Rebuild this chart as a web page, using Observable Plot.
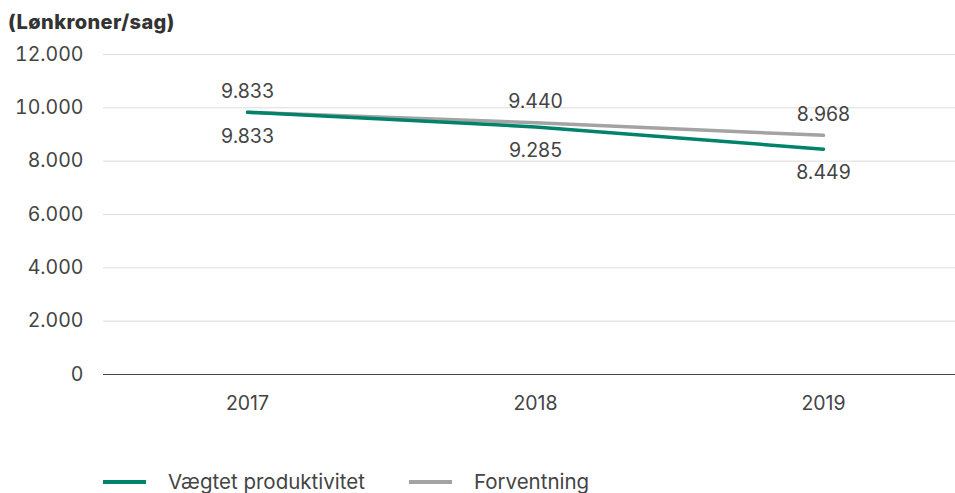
<!DOCTYPE html>
<html><head><meta charset="utf-8">
<script src="https://cdn.jsdelivr.net/npm/d3@7"></script>
<script src="https://cdn.jsdelivr.net/npm/@observablehq/plot@0.6"></script>
<style>
body{margin:0;background:#fff;font-family:Inter,"Liberation Sans",sans-serif;color:#444;}
#title{position:absolute;left:8px;top:10px;font-weight:800;font-size:20px;color:#333;letter-spacing:0.4px;}
#chart{position:absolute;left:0;top:40px;}
#legend{position:absolute;left:103px;top:469px;display:flex;align-items:center;font-size:20.5px;color:#444;}
.sw{width:43px;height:4px;margin-right:22px;}
.it{display:flex;align-items:center;margin-right:44px;}
</style></head>
<body>
<div id="title">(Lønkroner/sag)</div>
<div id="chart"></div>
<div id="legend"></div>
<script>
const years = ["2017","2018","2019"];
const produktivitet = [9833, 9285, 8449];
const forventning = [9833, 9440, 8968];
const yTicks = [0,2000,4000,6000,8000,10000,12000];
const seriesNames = ["Vægtet produktivitet","Forventning"];
const colors = ["#00836a","#a3a3a3"];

const loc = d3.formatLocale({decimal:",",thousands:".",grouping:[3],currency:["","kr"]});
const fmt = loc.format(",d");

const data = [];
years.forEach((y,i)=>{
  data.push({year:y, value:produktivitet[i], series:seriesNames[0]});
  data.push({year:y, value:forventning[i], series:seriesNames[1]});
});
const green = data.filter(d=>d.series===seriesNames[0]);
const grey = data.filter(d=>d.series===seriesNames[1]);

const chart = Plot.plot({
  width:955, height:390,
  marginLeft:103, marginRight:0, marginTop:14, marginBottom:56,
  style:{fontFamily:"Inter, 'Liberation Sans', sans-serif", fontSize:"19.5px", color:"#444", background:"transparent"},
  x:{type:"point", domain:years, range:[247,823], padding:0, label:null},
  y:{domain:[0,12000], ticks:yTicks, label:null},
  marks:[
    Plot.ruleY(yTicks.filter(t=>t>0), {stroke:"#dcdcdc", strokeWidth:1}),
    Plot.ruleY([0], {stroke:"#444", strokeWidth:1}),
    Plot.axisY({ticks:yTicks, tickSize:0, tickPadding:20, tickFormat:fmt, fill:"#444", fontSize:19.5, letterSpacing:"-0.5px", label:null}),
    Plot.axisX({tickSize:0, tickPadding:22, fill:"#444", fontSize:19.5, letterSpacing:"-0.5px", label:null}),
    Plot.line(grey, {x:"year", y:"value", stroke:colors[1], strokeWidth:3.5}),
    Plot.line(green, {x:"year", y:"value", stroke:colors[0], strokeWidth:3.5}),
    Plot.text(grey, {x:"year", y:"value", text:d=>fmt(d.value), dy:-21, fill:"#444", fontSize:19.5, letterSpacing:"-0.5px"}),
    Plot.text(green, {x:"year", y:"value", text:d=>fmt(d.value), dy:24, fill:"#444", fontSize:19.5, letterSpacing:"-0.5px"})
  ]
});
document.getElementById("chart").appendChild(chart);

const leg = document.getElementById("legend");
seriesNames.forEach((n,i)=>{
  const it = document.createElement("div"); it.className="it";
  const sw = document.createElement("div"); sw.className="sw"; sw.style.background=colors[i];
  const t = document.createElement("span"); t.textContent=n;
  it.appendChild(sw); it.appendChild(t); leg.appendChild(it);
});
</script>
</body></html>
